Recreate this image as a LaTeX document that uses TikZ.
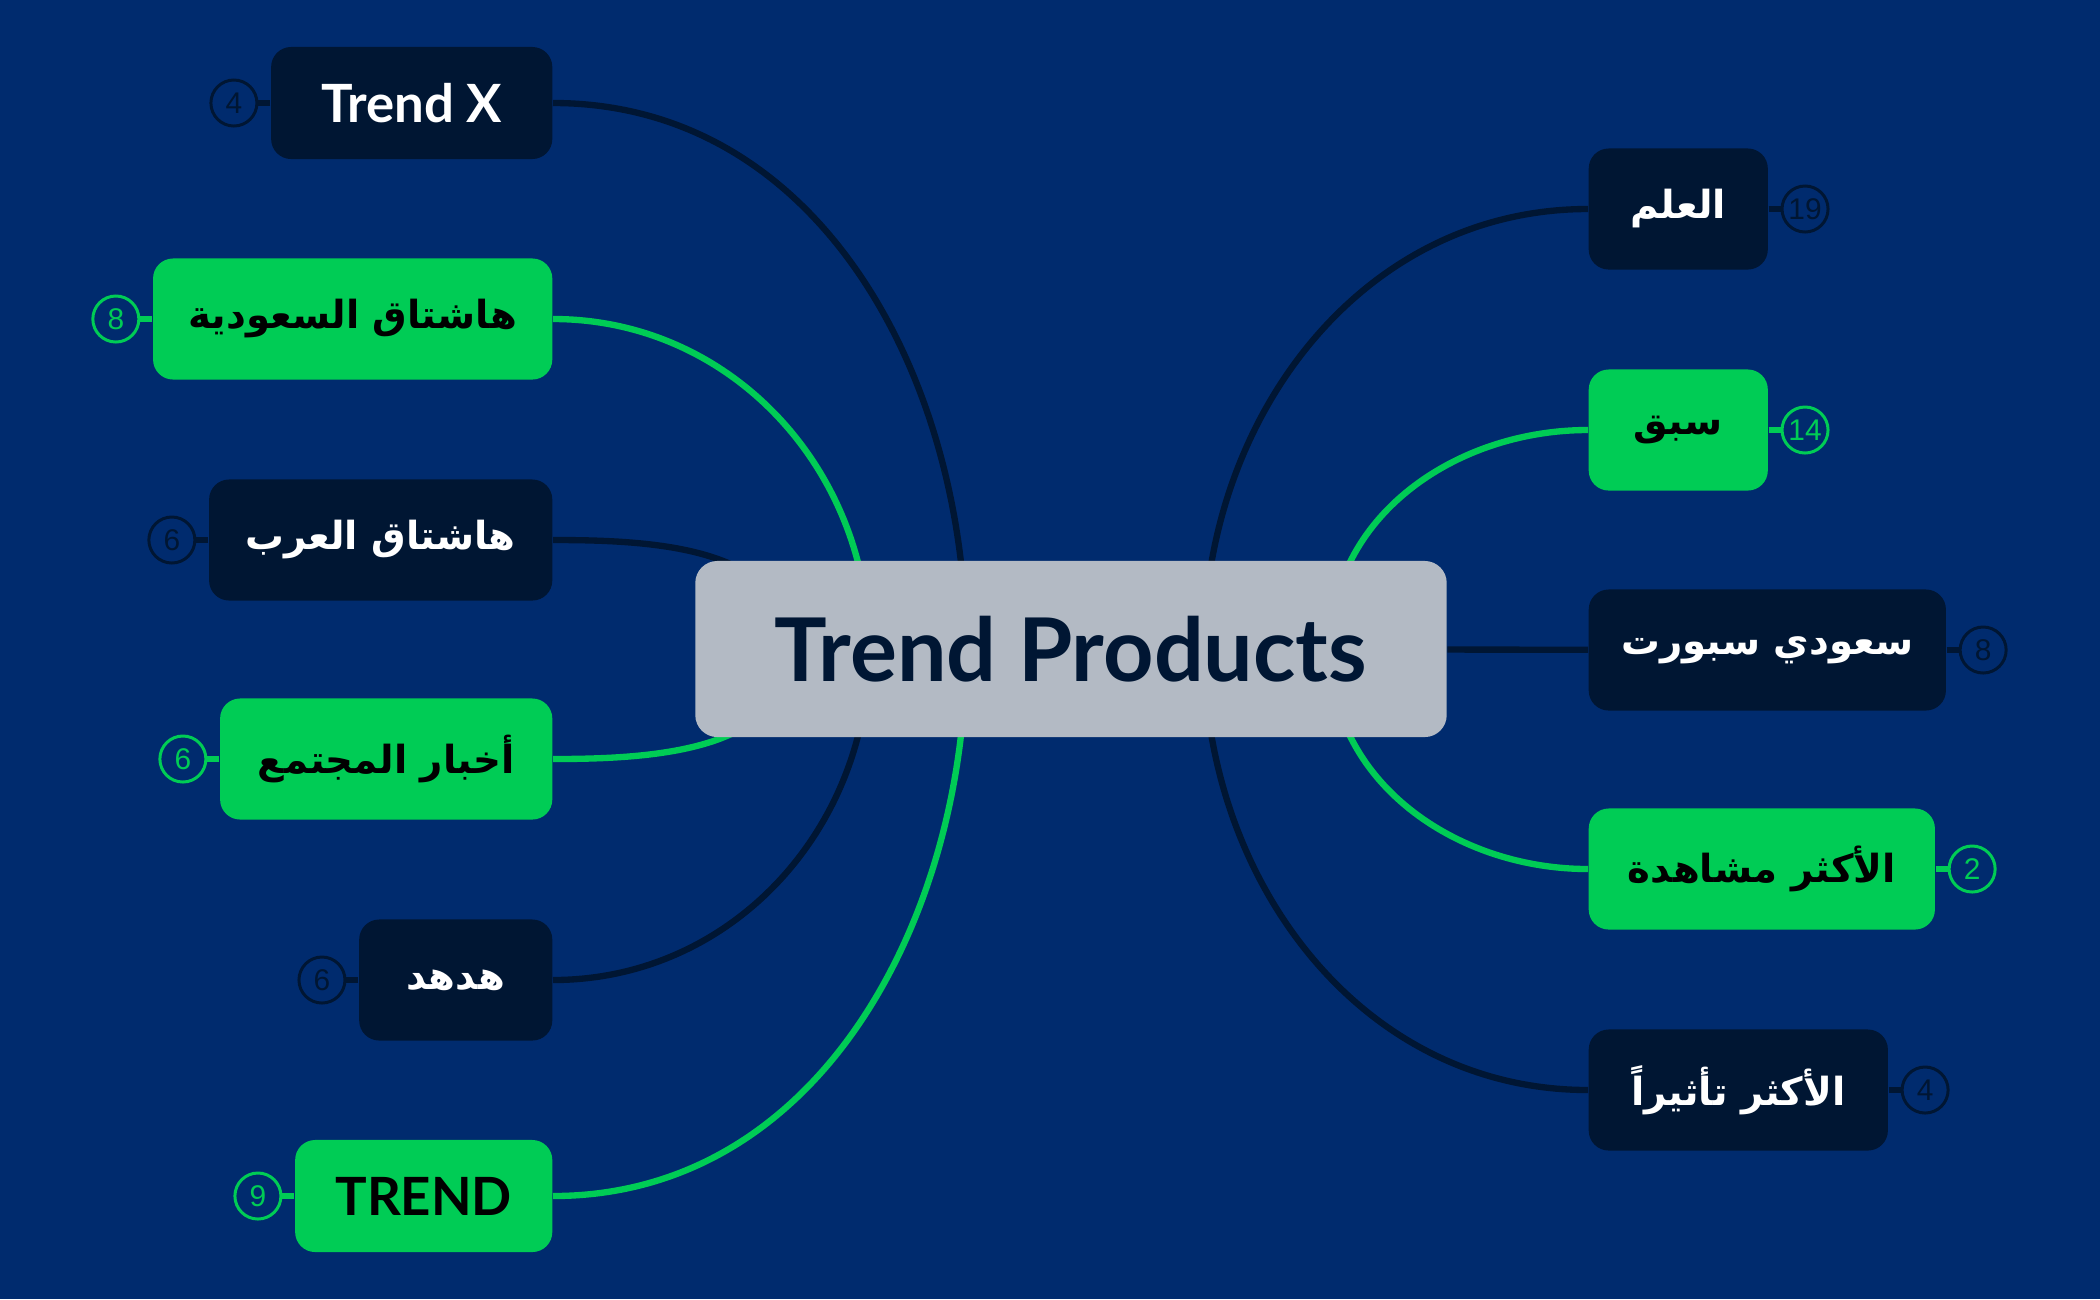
\documentclass[tikz,border=0pt]{standalone}
\usepackage{fontspec}
\setmainfont{Lato}
\newfontfamily\arabicfont[Script=Arabic]{DejaVu Sans}
\newfontfamily\numfont{Liberation Sans}
\usetikzlibrary{positioning, backgrounds}
\TeXXeTstate=1
\definecolor{navy}{HTML}{002B6E}
\definecolor{ink}{HTML}{001633}
\definecolor{leaf}{HTML}{00CC55}
\definecolor{slate}{HTML}{B3BAC4}
\newcommand{\ar}[1]{{\arabicfont\bfseries\beginR #1\endR}}

\begin{document}
\begin{tikzpicture}[x=0.01cm, y=0.01cm, node distance=0.12cm]
    \tikzstyle{topic}=[rectangle, rounded corners=0.2cm, minimum height=1.21cm, inner sep=0pt, text centered, font=\fontsize{11}{14}\selectfont]
    \tikzstyle{latin}=[minimum height=1.12cm, font=\bfseries\fontsize{15}{18}\selectfont]
    \tikzstyle{darkbox}=[topic, fill=ink, text=white]
    \tikzstyle{greenbox}=[topic, fill=leaf, text=black]
    \tikzstyle{badge}=[circle, draw, line width=0.85pt, minimum size=0.46cm, inner sep=0pt, font=\numfont\fontsize{8.5}{10}\selectfont]
    \tikzstyle{darkbadge}=[badge, draw=ink, text=ink]
    \tikzstyle{greenbadge}=[badge, draw=leaf, text=leaf]
    \tikzstyle{inkline}=[draw=ink, line width=1.8pt]
    \tikzstyle{leafline}=[draw=leaf, line width=1.8pt]

    \useasboundingbox (0,0) rectangle (2100,-1299);

    \node[rectangle, rounded corners=0.22cm, fill=slate, text=ink, minimum width=7.51cm, minimum height=1.76cm, font=\bfseries\fontsize{25}{30}\selectfont] (root) at (1071,-649) {Trend Products};

    \node[darkbox, latin, anchor=east, minimum width=2.81cm]  (trendx) at (553,-103)  {Trend X};
    \node[greenbox, anchor=east, minimum width=3.99cm]        (saudi)  at (553,-319)  {\ar{هاشتاق السعودية}};
    \node[darkbox, anchor=east, minimum width=3.43cm]         (arab)   at (553,-540)  {\ar{هاشتاق العرب}};
    \node[greenbox, anchor=east, minimum width=3.32cm]        (news)   at (553,-759)  {\ar{أخبار المجتمع}};
    \node[darkbox, anchor=east, minimum width=1.93cm]         (hudhud) at (553,-980)  {\ar{هدهد}};
    \node[greenbox, latin, anchor=east, minimum width=2.57cm] (trend)  at (553,-1196) {TREND};

    \node[darkbox, anchor=west, minimum width=1.79cm]  (ilm)    at (1588,-209)  {\ar{العلم}};
    \node[greenbox, anchor=west, minimum width=1.79cm] (sabq)   at (1588,-430)  {\ar{سبق}};
    \node[darkbox, anchor=west, minimum width=3.57cm]  (sport)  at (1588,-650)  {\ar{سعودي سبورت}};
    \node[greenbox, anchor=west, minimum width=3.46cm] (views)  at (1588,-869)  {\ar{الأكثر مشاهدة}};
    \node[darkbox, anchor=west, minimum width=2.99cm]  (impact) at (1588,-1090) {\ar{الأكثر تأثيراً}};

    \node[darkbadge]  (n-trendx) [left=of trendx] {4};
    \node[greenbadge] (n-saudi)  [left=of saudi]  {8};
    \node[darkbadge]  (n-arab)   [left=of arab]   {6};
    \node[greenbadge] (n-news)   [left=of news]   {6};
    \node[darkbadge]  (n-hudhud) [left=of hudhud] {6};
    \node[greenbadge] (n-trend)  [left=of trend]  {9};
    \node[darkbadge]  (n-ilm)    [right=of ilm]    {19};
    \node[greenbadge] (n-sabq)   [right=of sabq]   {14};
    \node[darkbadge]  (n-sport)  [right=of sport]  {8};
    \node[greenbadge] (n-views)  [right=of views]  {2};
    \node[darkbadge]  (n-impact) [right=of impact] {4};

    \begin{scope}[on background layer]
        \fill[navy] (0,0) rectangle (2100,-1299);
        \coordinate (lo1) at (966,-649);
        \coordinate (lo2) at (869,-649);
        \coordinate (lo3) at (790,-649);
        \coordinate (ro1) at (1204,-649);
        \coordinate (ro2) at (1330,-649);

        \path
        (lo1) edge[inkline, out=90, in=0]    (trendx.east)
              edge[leafline, out=-90, in=0]  (trend.east)
        (lo2) edge[leafline, out=90, in=0]   (saudi.east)
              edge[inkline, out=-90, in=0]   (hudhud.east)
        (lo3) edge[inkline, out=90, in=0]    (arab.east)
              edge[leafline, out=-90, in=0]  (news.east)
        (ro1) edge[inkline, out=90, in=180]  (ilm.west)
              edge[inkline, out=-90, in=180] (impact.west)
        (ro2) edge[leafline, out=90, in=180] (sabq.west)
              edge[leafline, out=-90, in=180] (views.west)
        (root) edge[inkline] (sport);

        \path
        (trendx) edge[inkline]  (n-trendx)
        (saudi)  edge[leafline] (n-saudi)
        (arab)   edge[inkline]  (n-arab)
        (news)   edge[leafline] (n-news)
        (hudhud) edge[inkline]  (n-hudhud)
        (trend)  edge[leafline] (n-trend)
        (ilm)    edge[inkline]  (n-ilm)
        (sabq)   edge[leafline] (n-sabq)
        (sport)  edge[inkline]  (n-sport)
        (views)  edge[leafline] (n-views)
        (impact) edge[inkline]  (n-impact);
    \end{scope}
\end{tikzpicture}
\end{document}
